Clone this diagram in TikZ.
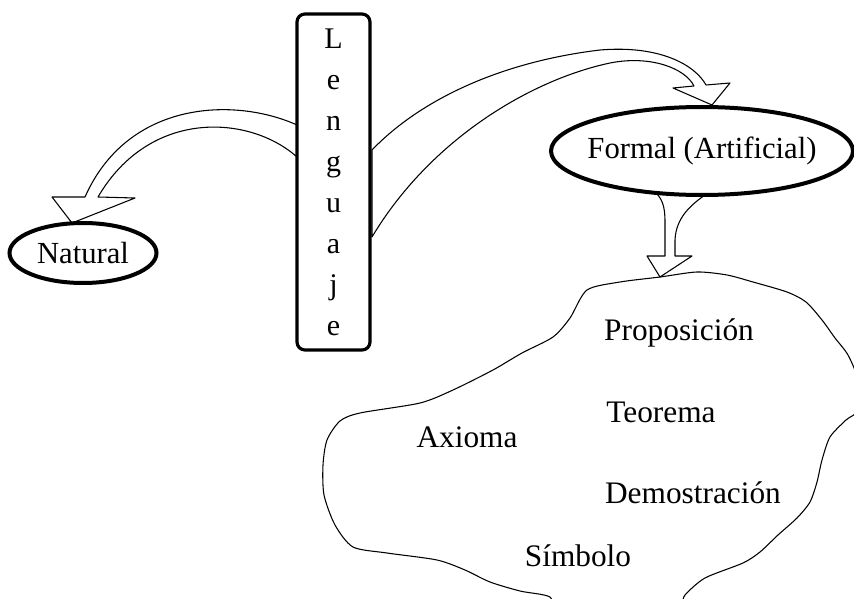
\documentclass[tikz,border=0pt]{standalone}
\usepackage{fontspec}
\setmainfont{Liberation Serif}
\usetikzlibrary{shapes.geometric}
\begin{document}
\begin{tikzpicture}[x=0.75pt,y=-0.75pt,
  lbl/.style={font=\fontsize{23.5}{30.75}\selectfont, inner sep=0pt, anchor=base},
  thinline/.style={line width=0.8pt, line join=round},
  blockarrow/.style={thinline, draw=black, fill=white},
  bubble/.style={ellipse, draw, line width=3pt, fill=white, inner sep=0pt,
    font=\fontsize{23}{30.75}\selectfont},
  column/.style={draw, line width=2.4pt, rounded corners=6pt, fill=white,
    minimum width=54.75pt, minimum height=252pt, align=center, inner sep=0pt,
    font=\fontsize{22.5}{30.75}\selectfont},
]
\useasboundingbox (0,0) rectangle (854,599);
\clip (0,0) rectangle (854,599);

% cloud region
\draw[thinline] plot[smooth cycle, tension=0.45] coordinates {
  (587,290) (620,282) (660,277) (697,272) (727,275) (753,282) (787,292)
  (806,302) (822,320) (835,338) (848,355) (858,380) (858,410) (846,420)
  (830,437) (822,460) (817,482) (810,502) (797,518) (778,535) (760,552)
  (743,563) (705,578) (685,595) (670,615) (560,615) (550,597) (520,591)
  (490,582) (465,570) (437,560) (387,553) (353,547) (335,525) (324,495)
  (323,465) (327,440) (340,421) (360,413) (420,403) (453,390) (493,370)
  (522,353) (553,337) (570,318)};

% block arrow: Lenguaje -> Natural
\draw[blockarrow] (297,125) .. controls (235,97) and (128,100) .. (85,197)
  -- (52,197) -- (72,223) -- (135,198) -- (98,197)
  .. controls (150,108) and (250,115) .. (297,157) -- cycle;

% block arrow: Lenguaje -> Formal
\draw[blockarrow] (372,150) .. controls (420,100) and (500,62) .. (600,50)
  .. controls (660,45) and (695,65) .. (706,85)
  -- (730,83) -- (712,105) -- (673,88) -- (694,86)
  .. controls (685,68) and (650,55) .. (610,63)
  .. controls (530,80) and (430,140) .. (372,237) -- cycle;

% block arrow: Formal -> cloud
\draw[blockarrow] (653,190) .. controls (662,198) and (665,205) .. (665,222)
  -- (665,256) -- (647,256) -- (660,277) -- (692,256) -- (675,256) -- (675,240)
  .. controls (676,218) and (690,205) .. (708,193) -- cycle;

% nodes
\node[column] (lenguaje) at (333.5,182) {L\\e\\n\\g\\u\\a\\j\\e};
\node[bubble, minimum width=110.25pt, minimum height=45pt] (natural) at (83,253) {Natural};
\node[bubble, minimum width=226.5pt, minimum height=66pt, inner xsep=-14pt] (formal) at (702,151) {Formal (Artificial)};

% texts inside the cloud
\node[lbl] (prop) at (679,340) {Proposición};
\node[lbl] (teor) at (661,422) {Teorema};
\node[lbl] (axio) at (467,447) {Axioma};
\node[lbl] (demo) at (693,503) {Demostración};
\node[lbl] (simb) at (578,566) {Símbolo};
\end{tikzpicture}
\end{document}
